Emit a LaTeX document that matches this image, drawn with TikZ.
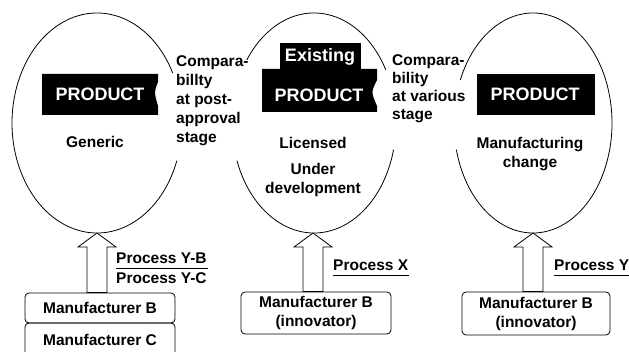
\documentclass[tikz,border=0pt]{standalone}
\usepackage{fontspec}
\setmainfont{Liberation Sans}
\usetikzlibrary{calc}
\begin{document}
\begin{tikzpicture}[x=1pt,y=-1pt]
\tikzset{
  lbl/.style={font=\bfseries\fontsize{15.5}{19}\selectfont, inner sep=0pt},
  bantext/.style={text=white, font=\bfseries\fontsize{18}{20}\selectfont, inner sep=0pt},
  mbox/.style={draw, rounded corners=4pt, line width=0.8pt, align=center, inner sep=0pt,
     minimum width=150pt, font=\bfseries\fontsize{15.5}{19}\selectfont},
  oval/.style={line width=0.8pt},
  blockarrow/.style={draw, fill=white, line width=0.8pt, line join=miter},
  uline/.style={line width=0.8pt},
}
\useasboundingbox (0,0) rectangle (629,352);
\clip (0,0) rectangle (629,352);

% ellipse centres and bottoms
\coordinate (c1) at (97,123);
\coordinate (c2) at (314,123);
\coordinate (c3) at (533,123);
\coordinate (t1) at (97,233);
\coordinate (t2) at (313,233);
\coordinate (t3) at (533,233);

% ellipses with gaps
\draw[oval] ($(c1)+(27:85pt and 110pt)$) arc[start angle=27, end angle=340, x radius=85pt, y radius=110pt];
\draw[oval] ($(c2)+(29:82pt and 110pt)$) arc[start angle=29, end angle=145, x radius=82pt, y radius=110pt];
\draw[oval] ($(c2)+(200:82pt and 110pt)$) arc[start angle=200, end angle=346, x radius=82pt, y radius=110pt];
\draw[oval] ($(c3)+(-166:79pt and 110pt)$) arc[start angle=-166, end angle=157, x radius=79pt, y radius=110pt];

% banners
\fill (42,74) -- (158,74) -- (158,82) .. controls (154,92) .. (158,106) -- (158,115) -- (42,115) -- cycle;
\node[bantext] (p1) at (100,94) {PRODUCT};

\fill (280,43) rectangle (361,70);
\node[bantext] (ex) at (320,57) {Existing};
\fill (262,69) -- (377,69) -- (377,80) .. controls (371,92) .. (377,106) -- (377,112) -- (262,112) -- cycle;
\node[bantext] (p2) at (319,95) {PRODUCT};

\fill (477,74) rectangle (595,115);
\node[bantext] (p3) at (535,94) {PRODUCT};

% texts inside ellipses
\node[lbl] (gen) at (95,142) {Generic};
\node[lbl] (lic) at (313,143) {Licensed};
\node[lbl, align=center] (und) at (313,180) {Under\\development};
\node[lbl, align=center] (mch) at (530,154) {Manufacturing\\change};

% comparability texts
\node[lbl, align=left, anchor=north west, font=\bfseries\fontsize{15.5}{19}\selectfont] (cmp1) at (176,55)
  {Compara-\\billty\\at post-\\approval\\stage};
\node[lbl, align=left, anchor=north west, font=\bfseries\fontsize{15.5}{18}\selectfont] (cmp2) at (392,54)
  {Compara-\\bility\\at various\\stage};

% manufacturer boxes
\node[mbox, minimum height=30pt] (m1b) at (100,308) {Manufacturer B};
\node[mbox, minimum height=34pt] (m1c) at (100,340) {Manufacturer C};
\node[mbox, minimum height=42pt] (m2) at (316,313) {Manufacturer B\\(innovator)};
\node[mbox, minimum width=148pt, minimum height=43pt] (m3) at (536,313.5) {Manufacturer B\\(innovator)};

% block arrows
\draw[blockarrow] (t1) -- ++(19,14) -- ++(-9,0) -- ($(t1 |- m1b.north)+(10,0)$) -- ($(t1 |- m1b.north)+(-10,0)$) -- ($(t1)+(-10,14)$) -- ++(-9,0) -- cycle;
\draw[blockarrow] (t2) -- ++(19,14) -- ++(-9,0) -- ($(t2 |- m2.north)+(10,0)$) -- ($(t2 |- m2.north)+(-10,0)$) -- ($(t2)+(-10,14)$) -- ++(-9,0) -- cycle;
\draw[blockarrow] (t3) -- ++(19,14) -- ++(-9,0) -- ($(t3 |- m3.north)+(10,0)$) -- ($(t3 |- m3.north)+(-10,0)$) -- ($(t3)+(-10,14)$) -- ++(-9,0) -- cycle;

% process labels
\node[lbl, anchor=base west] (pyb) at (116,264) {Process Y-B};
\node[lbl, anchor=base west] (pyc) at (116,284) {Process Y-C};
\draw[uline] ($(pyb.base west)+(0,4)$) -- ($(pyb.base east)+(1,4)$);
\node[lbl, anchor=base west] (px) at (333,271) {Process X};
\draw[uline] ($(px.base west)+(0,4)$) -- ($(px.base east)+(1,4)$);
\node[lbl, anchor=base west] (py) at (554,271) {Process Y};
\draw[uline] ($(py.base west)+(0,4)$) -- ($(py.base east)+(1,4)$);
\end{tikzpicture}
\end{document}
